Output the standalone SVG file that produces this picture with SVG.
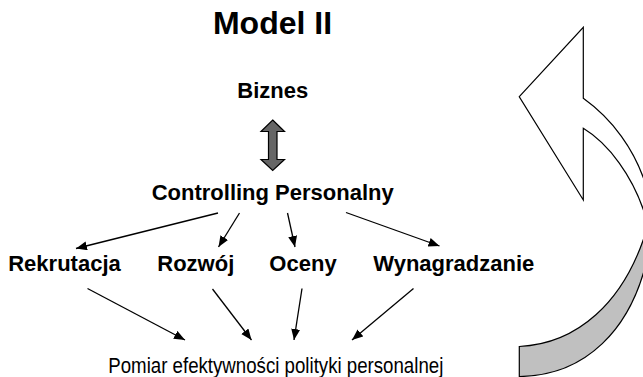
<svg xmlns="http://www.w3.org/2000/svg" width="643" height="377" viewBox="0 0 643 377">
<style>
.b{font-family:"Liberation Sans",Arial,sans-serif;font-weight:bold;font-size:22px;fill:#000;text-anchor:middle}
.t{font-size:32px}
.r{font-family:"Liberation Sans",Arial,sans-serif;font-size:22px;fill:#000}
.c{stroke:#000;stroke-width:1.3;fill:none;marker-end:url(#ah)}
.sh{stroke:#000;stroke-width:1.2;stroke-linejoin:miter}
</style>
<defs>
<marker id="ah" markerUnits="userSpaceOnUse" markerWidth="12" markerHeight="10" refX="11" refY="4.5" orient="auto">
<path d="M0,0 L11,4.5 L0,9 Z" fill="#000"/>
</marker>
</defs>
<rect width="643" height="377" fill="#fff"/>
<g id="cycle-arrow">
<path class="sh" fill="#c0c0c0" d="M519.3,346.5 C575,344 625,305 648,225 L670,225 L670,255 L648,255 C632,330 585,376 519.3,376.5 Z"/>
<path class="sh" fill="#fff" d="M519.3,96.7 L583.3,27.3 L583.3,98.3 C608,116 638,148 650,200 L665,200 L665,225 L648,225 C635,175 606,142 583.3,128.3 L583.3,200 Z"/>
</g>
<g id="title"><text class="b t" x="272.5" y="34">Model II</text></g>
<g id="biznes"><text class="b" x="272.8" y="98">Biznes</text></g>
<g id="double-arrow">
<path class="sh" fill="#666" d="M272.7,120 L284.5,131.5 L277,131.5 L277,159.5 L284.5,159.5 L272.7,170.5 L261,159.5 L268.5,159.5 L268.5,131.5 L261,131.5 Z"/>
</g>
<g id="controlling"><text class="b" x="272.7" y="199.5">Controlling Personalny</text></g>
<g id="rekrutacja"><text class="b" x="64.5" y="270.5">Rekrutacja</text></g>
<g id="rozwoj"><text class="b" x="195.8" y="270.5">Rozwój</text></g>
<g id="oceny"><text class="b" x="303" y="270.5">Oceny</text></g>
<g id="wynagradzanie"><text class="b" x="453.8" y="270.5">Wynagradzanie</text></g>
<g id="pomiar"><text class="r" x="108.3" y="372.5" textLength="335" lengthAdjust="spacingAndGlyphs">Pomiar efektywności polityki personalnej</text></g>
<g id="connectors">
<line class="c" x1="218" y1="213" x2="76" y2="248.5"/>
<line class="c" x1="239.5" y1="213" x2="218.5" y2="247"/>
<line class="c" x1="287.5" y1="213" x2="295" y2="247"/>
<line class="c" x1="346" y1="212.5" x2="439.5" y2="246"/>
<line class="c" x1="87.5" y1="288.5" x2="185" y2="340"/>
<line class="c" x1="212.5" y1="289" x2="251.5" y2="340"/>
<line class="c" x1="302" y1="288.5" x2="294" y2="340"/>
<line class="c" x1="413.5" y1="288.5" x2="352" y2="340"/>
</g>
</svg>
